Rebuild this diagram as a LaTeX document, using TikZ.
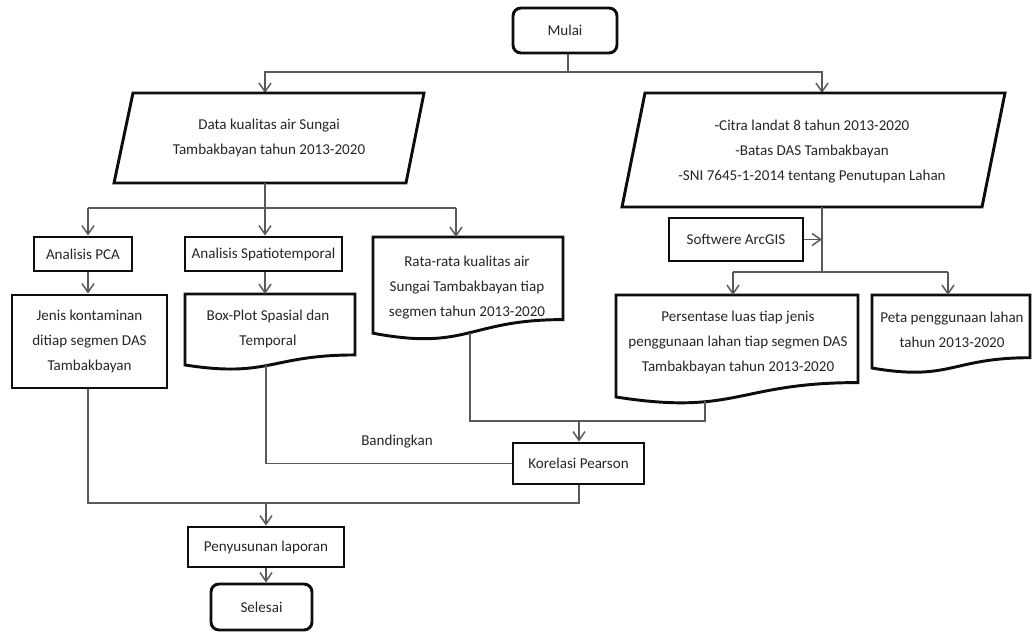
\documentclass[tikz,border=0pt]{standalone}
\usepackage{fontspec}
\setmainfont{Carlito}
\usetikzlibrary{arrows.meta,calc}
\newcommand\flowdoc[4]{% x1, x2, ytop, H
  \draw[border] (#1,#3) -- (#2,#3) -- (#2,{#3+0.802*#4})
    .. controls ({(#1+#2)/2},{#3+0.802*#4}) and ({(#1+#2)/2},{#3+1.1075*#4}) ..
    (#1,{#3+0.934*#4}) -- cycle;}
\begin{document}
\begin{tikzpicture}[x=0.75pt,y=-0.75pt,
  border/.style={line width=2.2pt, black!95, line join=miter},
  conn/.style={line width=1.1pt, black!65},
  arr/.style={conn, -{Straight Barb[length=6.5pt,width=9pt,line width=1.1pt]}},
  txt/.style={font=\fontsize{11.3}{18.75}\selectfont, align=center, inner sep=0pt, text=black!85},
  sz/.style 2 args={minimum width={#1*0.75pt}, minimum height={#2*0.75pt}},
  box/.style={draw, border, txt, rectangle},
  term/.style={box, rounded corners=6pt}]
\useasboundingbox (0,0) rectangle (1033,632);

% Start
\node[term, sz={104}{45}] (mulai) at (565,30.5) {Mulai};
\coordinate (j0) at (568,72);
\coordinate (dataTop) at (265,93);
\coordinate (citraTop) at (822,93);
\draw[conn] (mulai.south -| j0) -- (j0);
\draw[arr] (j0) -| (dataTop);
\draw[arr] (j0) -| (citraTop);

% Left input
\draw[border] (133,93) -- (424,93) -- (406,183) -- (114,183) -- cycle;
\node[txt] (data) at (269,137.5) {Data kualitas air Sungai\\Tambakbayan tahun 2013-2020};

% Right input
\draw[border] (645,93) -- (1005,93) -- (982,207) -- (622,207) -- cycle;
\node[txt] (citra) at (812,152) {-Citra landat 8 tahun 2013-2020\\-Batas DAS Tambakbayan\\-SNI 7645-1-2014 tentang Penutupan Lahan};

% Left branch
\coordinate (dataBot) at (265,183);
\coordinate (j1) at (265,208);
\coordinate (c1) at (88,208);
\coordinate (c2) at (456,208);
\draw[conn] (dataBot) -- (j1);
\draw[conn] (c1) -- (c2);

\node[box, sz={98}{34}] (pca) at (83,254) {Analisis PCA};
\node[box, sz={155}{93}] (jenis) at (89.5,341.5) {Jenis kontaminan\\ditiap segmen DAS\\Tambakbayan};
\node[box, sz={157}{34}] (spatio) at (263.5,254) {Analisis Spatiotemporal};

\flowdoc{185}{355}{294}{76}
\node[txt] (boxplot) at (268,328.5) {Box-Plot Spasial dan\\Temporal};
\coordinate (boxTop) at (265,294);
\coordinate (boxBot) at (266,365);

\flowdoc{373}{563}{237}{103}
\node[txt] (rata) at (467,287.5) {Rata-rata kualitas air\\Sungai Tambakbayan tiap\\segmen tahun 2013-2020};
\coordinate (rataTop) at (456,237);
\coordinate (rataBot) at (470,333);

\draw[arr] (c1) -- (c1 |- pca.north);
\draw[arr] (j1) -- (j1 |- spatio.north);
\draw[arr] (c2) -- (rataTop);
\draw[arr] (c1 |- pca.south) -- (c1 |- jenis.north);
\draw[arr] (j1 |- spatio.south) -- (boxTop);

% Right branch
\coordinate (citraBot) at (822,207);
\coordinate (j2) at (822,272);
\coordinate (c3) at (733,272);
\coordinate (c4) at (948,272);
\draw[conn] (citraBot) -- (j2);
\draw[conn] (c3) -- (c4);
\node[box, sz={134}{43}] (arcgis) at (736,239.5) {Softwere ArcGIS};
\draw[arr] (arcgis.east) -- (arcgis.east -| j2);

\flowdoc{616}{858}{295}{109.2}
\node[txt] (persen) at (738,342) {Persentase luas tiap jenis\\penggunaan lahan tiap segmen DAS\\Tambakbayan tahun 2013-2020};
\coordinate (persenTop) at (733,295);
\coordinate (persenBot) at (705,401);

\flowdoc{872}{1030}{295}{78.2}
\node[txt] (peta) at (952,329.5) {Peta penggunaan lahan\\tahun 2013-2020};
\coordinate (petaTop) at (948,295);

\draw[arr] (c3) -- (persenTop);
\draw[arr] (c4) -- (petaTop);

% Correlation
\node[box, sz={131}{41}] (korelasi) at (578.5,463.5) {Korelasi Pearson};
\coordinate (c5) at (470,421);
\coordinate (c6) at (705,421);
\coordinate (c7) at (579,421);
\draw[conn] (rataBot) -- (c5) -- (c6) -- (persenBot);
\draw[arr] (c7) -- (c7 |- korelasi.north);
\draw[conn] (boxBot) |- (korelasi.west);
\node[txt] (band) at (397,442) {Bandingkan};

% Report
\node[box, sz={156}{40}] (lap) at (266,547) {Penyusunan laporan};
\node[term, sz={101}{46}] (selesai) at (261.5,607) {Selesai};
\coordinate (c8) at (88,503);
\coordinate (c9) at (579,503);
\coordinate (c10) at (266,503);
\draw[conn] (jenis.south -| c8) -- (c8) -- (c9) -- (korelasi.south -| c9);
\draw[arr] (c10) -- (c10 |- lap.north);
\draw[arr] (lap.south) -- (lap.south |- selesai.north);
\end{tikzpicture}
\end{document}
